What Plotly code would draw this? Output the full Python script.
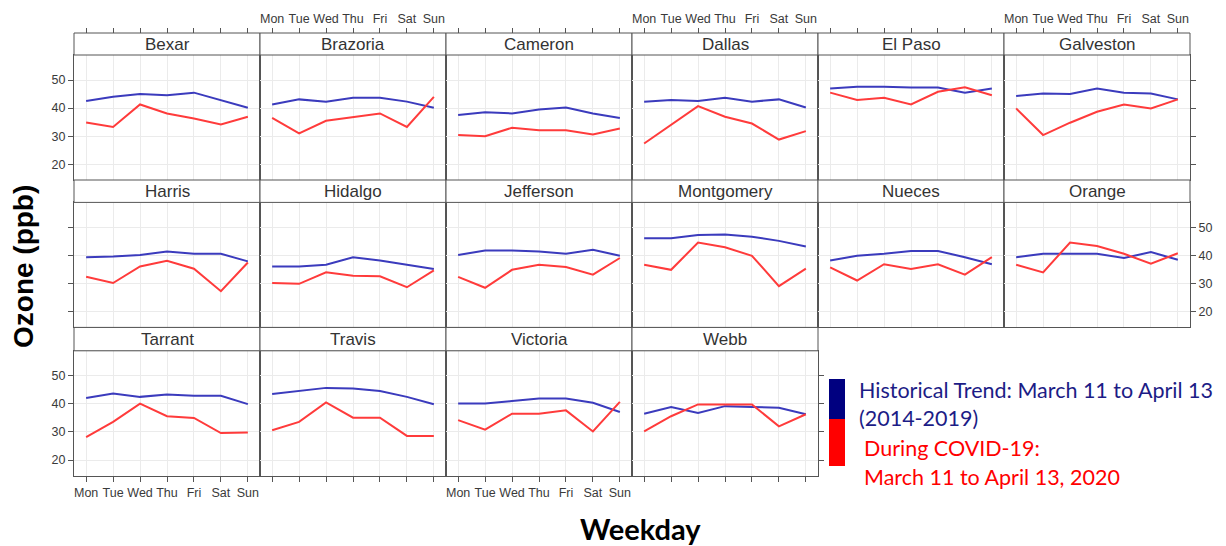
import plotly.graph_objects as go

W, H = 1226, 546

days = ["Mon", "Tue", "Wed", "Thu", "Fri", "Sat", "Sun"]
day_pos = [1, 2, 3, 4, 5, 6, 7]
counties = ["Bexar", "Brazoria", "Cameron", "Dallas", "El Paso", "Galveston",
            "Harris", "Hidalgo", "Jefferson", "Montgomery", "Nueces", "Orange",
            "Tarrant", "Travis", "Victoria", "Webb"]

historical = {
    "Bexar":      [42.5, 44.0, 45.0, 44.6, 45.5, 42.9, 40.1],
    "Brazoria":   [41.3, 43.1, 42.3, 43.7, 43.7, 42.3, 40.1],
    "Cameron":    [37.5, 38.5, 38.1, 39.5, 40.2, 38.1, 36.5],
    "Dallas":     [42.3, 42.9, 42.5, 43.7, 42.3, 43.1, 40.2],
    "El Paso":    [47.0, 47.6, 47.6, 47.3, 47.3, 45.5, 47.0],
    "Galveston":  [44.3, 45.2, 45.0, 47.0, 45.5, 45.2, 43.1],
    "Harris":     [39.4, 39.6, 40.2, 41.4, 40.6, 40.6, 37.9],
    "Hidalgo":    [36.1, 36.1, 36.7, 39.4, 38.2, 36.7, 35.2],
    "Jefferson":  [40.2, 41.8, 41.8, 41.4, 40.6, 42.0, 39.9],
    "Montgomery": [46.1, 46.1, 47.3, 47.5, 46.7, 45.2, 43.2],
    "Nueces":     [38.2, 39.9, 40.6, 41.6, 41.6, 39.4, 36.9],
    "Orange":     [39.4, 40.6, 40.6, 40.6, 39.1, 41.2, 38.5],
    "Tarrant":    [42.1, 43.7, 42.5, 43.3, 42.9, 42.9, 39.9],
    "Travis":     [43.5, 44.6, 45.7, 45.5, 44.6, 42.5, 39.9],
    "Victoria":   [40.1, 40.1, 41.0, 41.9, 41.9, 40.4, 37.1],
    "Webb":       [36.5, 38.9, 36.8, 39.2, 38.9, 38.6, 36.3],
}
covid = {
    "Bexar":      [34.9, 33.3, 41.3, 38.1, 36.3, 34.2, 36.9],
    "Brazoria":   [36.5, 31.0, 35.5, 36.9, 38.1, 33.3, 44.0],
    "Cameron":    [30.4, 30.0, 33.0, 32.1, 32.1, 30.6, 32.7],
    "Dallas":     [27.4, 33.9, 40.7, 36.9, 34.5, 28.8, 31.8],
    "El Paso":    [45.5, 42.9, 43.7, 41.3, 45.8, 47.4, 44.6],
    "Galveston":  [39.9, 30.4, 34.8, 38.7, 41.3, 39.9, 43.1],
    "Harris":     [32.4, 30.2, 36.1, 38.1, 35.3, 27.3, 37.5],
    "Hidalgo":    [30.2, 29.9, 34.0, 32.8, 32.6, 28.7, 34.7],
    "Jefferson":  [32.4, 28.5, 34.9, 36.7, 35.9, 33.2, 39.1],
    "Montgomery": [36.7, 34.9, 44.6, 42.9, 39.9, 29.1, 35.3],
    "Nueces":     [35.8, 31.1, 36.9, 35.2, 36.9, 33.2, 39.4],
    "Orange":     [36.7, 34.0, 44.6, 43.4, 40.6, 37.1, 40.8],
    "Tarrant":    [28.2, 33.6, 40.1, 35.6, 35.0, 29.6, 29.8],
    "Travis":     [30.6, 33.6, 40.5, 35.1, 35.1, 28.6, 28.6],
    "Victoria":   [34.2, 30.8, 36.5, 36.5, 37.7, 30.2, 40.7],
    "Webb":       [30.2, 35.6, 39.8, 39.8, 39.8, 32.0, 36.3],
}
y_ticks = [20, 30, 40, 50]

BLUE = "#3b3bbd"
RED = "#ff3b3b"
BORDER = "#555555"
GRID = "#ebebeb"
TICKFONT = dict(family="Liberation Sans, Arial", size=12.5, color="#3a3a3a")

col_edges = [74, 260, 446, 632, 818, 1004, 1190]
row_tops = [55, 202.4, 350.8]
panel_h = 125
strip_tops = [33, 180, 327.4]
xr = [0.55, 7.45]
yr = [14.4, 58.9]


def fx(px):
    return px / W


def fy(py):
    return 1 - py / H


fig = go.Figure()
layout = dict(width=W, height=H, margin=dict(l=0, r=0, t=0, b=0),
              paper_bgcolor="white", plot_bgcolor="white", showlegend=False)
shapes = []
annotations = []

ncols_in_row = [6, 6, 4]

for i, name in enumerate(counties):
    r, c = divmod(i, 6)
    k = i + 1
    xa = "x" if k == 1 else f"x{k}"
    ya = "y" if k == 1 else f"y{k}"
    fig.add_trace(go.Scatter(x=day_pos, y=historical[name], mode="lines",
                             line=dict(color=BLUE, width=2), xaxis=xa, yaxis=ya,
                             hoverinfo="skip"))
    fig.add_trace(go.Scatter(x=day_pos, y=covid[name], mode="lines",
                             line=dict(color=RED, width=2), xaxis=xa, yaxis=ya,
                             hoverinfo="skip"))
    x0, x1 = col_edges[c], col_edges[c + 1]
    top = row_tops[r]
    bot = top + panel_h
    bottom_row = (r == 2)
    xaxis = dict(domain=[fx(x0), fx(x1)], anchor=ya, range=xr,
                 tickvals=day_pos, ticktext=days, showgrid=True, gridcolor=GRID,
                 gridwidth=1, showline=True, mirror=True, linecolor=BORDER,
                 linewidth=1, zeroline=False, tickfont=TICKFONT,
                 ticks="outside" if bottom_row else "", ticklen=5,
                 tickcolor=BORDER,
                 showticklabels=bottom_row and c in (0, 2), fixedrange=True)
    is_right = (c == ncols_in_row[r] - 1)
    if c == 0:
        side, ticks, labels = "left", "outside", r in (0, 2)
    elif is_right:
        side, ticks, labels = "right", "outside", r == 1
    else:
        side, ticks, labels = "left", "", False
    yaxis = dict(domain=[fy(bot), fy(top)], anchor=xa, range=yr,
                 tickvals=y_ticks, showgrid=True, gridcolor=GRID, gridwidth=1,
                 showline=True, mirror=True, linecolor=BORDER, linewidth=1,
                 zeroline=False, side=side, ticks=ticks, ticklen=5,
                 tickcolor=BORDER, showticklabels=labels, tickfont=TICKFONT,
                 fixedrange=True)
    layout["xaxis" if k == 1 else f"xaxis{k}"] = xaxis
    layout["yaxis" if k == 1 else f"yaxis{k}"] = yaxis

    # strip
    st = strip_tops[r]
    shapes.append(dict(type="rect", xref="paper", yref="paper",
                       x0=fx(x0), x1=fx(x1), y0=fy(top), y1=fy(st),
                       fillcolor="white", line=dict(color=BORDER, width=1)))
    annotations.append(dict(text=name, xref="paper", yref="paper",
                            x=fx((x0 + x1) / 2), y=fy((st + top) / 2 + 0.5),
                            showarrow=False, xanchor="center", yanchor="middle",
                            font=dict(family="Liberation Sans, Arial", size=17,
                                      color="#333333")))

# top tick axes above the first-row strips
for c in range(6):
    k = 17 + c
    base = "x" if c == 0 else f"x{c + 1}"
    ybase = "y" if c == 0 else f"y{c + 1}"
    fig.add_trace(go.Scatter(x=[None], y=[None], xaxis=f"x{k}", yaxis=ybase,
                             hoverinfo="skip", showlegend=False))
    layout[f"xaxis{k}"] = dict(domain=[fx(col_edges[c]), fx(col_edges[c + 1])],
                               overlaying=base, anchor="free",
                               position=fy(strip_tops[0]), side="top",
                               range=xr, tickvals=day_pos, ticktext=days,
                               ticks="outside", ticklen=5, tickcolor=BORDER,
                               showticklabels=c in (1, 3, 5), showgrid=False,
                               showline=False, zeroline=False,
                               tickfont=TICKFONT, fixedrange=True)

# axis titles
annotations.append(dict(text="<b>Ozone (ppb)</b>", xref="paper", yref="paper",
                        x=fx(23), y=fy(267), showarrow=False, textangle=-90,
                        xanchor="center", yanchor="middle",
                        font=dict(family="Liberation Sans, Arial", size=28,
                                  color="black")))
annotations.append(dict(text="<b>Weekday</b>", xref="paper", yref="paper",
                        x=fx(640), y=fy(528), showarrow=False,
                        xanchor="center", yanchor="middle",
                        font=dict(family="Lato", size=29, color="black")))

# legend
shapes.append(dict(type="rect", xref="paper", yref="paper", x0=fx(829), x1=fx(845),
                   y0=fy(419), y1=fy(379), fillcolor="#000080", line=dict(width=0)))
shapes.append(dict(type="rect", xref="paper", yref="paper", x0=fx(829), x1=fx(845),
                   y0=fy(466), y1=fy(419), fillcolor="#ff0000", line=dict(width=0)))
legend_lines = [
    ("Historical Trend: March 11 to April 13", 857, 390, "#1c1c86"),
    ("(2014-2019)", 857, 418, "#1c1c86"),
    ("During COVID-19:", 862, 448, "#ff0000"),
    ("March 11 to April 13, 2020", 862, 477, "#ff0000"),
]
for txt, lx, ly, col in legend_lines:
    annotations.append(dict(text=txt, xref="paper", yref="paper", x=fx(lx), y=fy(ly),
                            showarrow=False, xanchor="left", yanchor="middle",
                            font=dict(family="Lato", size=21.5, color=col)))

layout["shapes"] = shapes
layout["annotations"] = annotations
fig.update_layout(**layout)
fig.write_html("out.html", post_script="document.body.style.margin='0';",
               config={"displayModeBar": False})
